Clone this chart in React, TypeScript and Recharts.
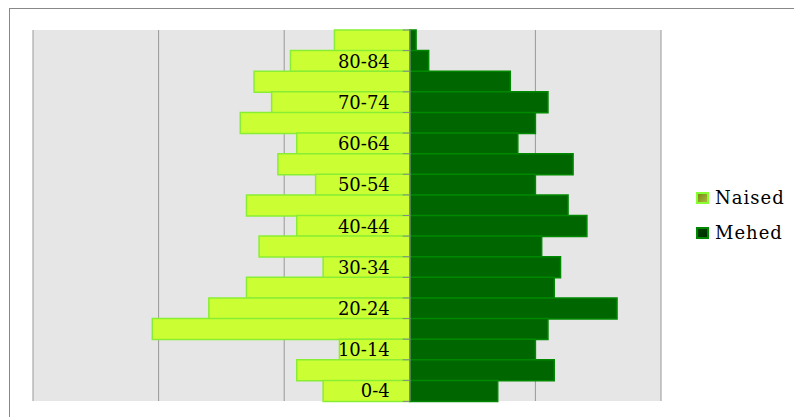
import { Bar, BarChart, CartesianGrid, LabelList, Legend, ReferenceLine, XAxis, YAxis } from "recharts";

// age groups, top to bottom
const AGES = [
  "85+", "80-84", "75-79", "70-74", "65-69", "60-64", "55-59", "50-54", "45-49",
  "40-44", "35-39", "30-34", "25-29", "20-24", "15-19", "10-14", "5-9", "0-4",
];
const NAISED = [0.6, 0.95, 1.24, 1.1, 1.35, 0.9, 1.05, 0.75, 1.3, 0.9, 1.2, 0.69, 1.3, 1.6, 2.05, 0.56, 0.9, 0.69];
const MEHED = [0.05, 0.15, 0.8, 1.1, 1.0, 0.86, 1.3, 1.0, 1.26, 1.41, 1.05, 1.2, 1.15, 1.65, 1.1, 1.0, 1.15, 0.7];
const X_TICKS = [-3, -2, -1, 0, 1, 2];

const FONT = "'DejaVu Serif', serif";
const LEGEND_W = 98;

const data = AGES.map((age, i) => ({
  age,
  naised: -NAISED[i],
  mehed: MEHED[i],
}));

// only every other age group gets a label, counting from the bottom
const showLabel = (i: number) => (AGES.length - 1 - i) % 2 === 0;

function AgeLabel(props: any) {
  const { x, y, width, height, value, index } = props;
  const right = Math.max(Number(x), Number(x) + Number(width));
  const top = Number(y);
  const h = Number(height);
  return (
    <g>
      <line x1={right - 7} x2={right} y1={top} y2={top} stroke="#888" strokeWidth={1} />
      {index === AGES.length - 1 && (
        <line x1={right - 7} x2={right} y1={top + h} y2={top + h} stroke="#888" strokeWidth={1} />
      )}
      {showLabel(index) && (
        <text
          x={right - 20}
          y={top + h / 2}
          textAnchor="end"
          dominantBaseline="central"
          fontFamily={FONT}
          fontSize={18}
          fill="#000"
        >
          {value}
        </text>
      )}
    </g>
  );
}

function LegendBox({ payload }: any) {
  const items = (payload || []).slice().sort((a: any) => (a.value === "Naised" ? -1 : 1));
  return (
    <div style={{ fontFamily: FONT, fontSize: 18, color: "#000" }}>
      {items.map((p: any) => (
        <div key={p.value} style={{ display: "flex", alignItems: "center", height: 35 }}>
          <span
            style={{
              display: "inline-block",
              width: 9,
              height: 8,
              marginRight: 6,
              border: `2px solid ${p.value === "Naised" ? "#88ff33" : "#008800"}`,
              background:
                p.value === "Naised"
                  ? "linear-gradient(135deg, #7a8a1a, #aab838)"
                  : "linear-gradient(135deg, #004400, #002c00)",
            }}
          />
          <span style={{ letterSpacing: 1 }}>{p.value}</span>
        </div>
      ))}
    </div>
  );
}

export default function App() {
  return (
    <div style={{ position: "absolute", left: 0, top: 0, width: 794, height: 417, background: "#fff" }}>
      <div
        style={{
          position: "absolute",
          left: 9,
          top: 8,
          right: 0,
          bottom: 0,
          borderTop: "1px solid #888",
          borderLeft: "1px solid #888",
        }}
      />
      <BarChart
        width={794}
        height={417}
        data={data}
        layout="vertical"
        stackOffset="sign"
        barCategoryGap={0}
        margin={{ top: 30, right: 133 - LEGEND_W, bottom: 16, left: 33 }}
      >
        <CartesianGrid horizontal={false} fill="#e6e6e6" stroke="#999" strokeWidth={1} />
        <XAxis type="number" domain={[-3, 2]} ticks={X_TICKS} hide />
        <YAxis type="category" dataKey="age" hide />
        <Bar
          dataKey="naised"
          name="Naised"
          stackId="a"
          fill="#ccff33"
          stroke="#88ee33"
          strokeWidth={1.5}
          isAnimationActive={false}
        >
          <LabelList dataKey="age" content={AgeLabel} />
        </Bar>
        <Bar
          dataKey="mehed"
          name="Mehed"
          stackId="a"
          fill="#006600"
          stroke="#008800"
          strokeWidth={1.5}
          isAnimationActive={false}
        />
        <ReferenceLine x={0} stroke="#888" strokeWidth={1.5} />
        <Legend
          layout="horizontal"
          verticalAlign="middle"
          align="right"
          content={LegendBox}
          wrapperStyle={{ left: 696, top: 180, width: LEGEND_W }}
        />
      </BarChart>
    </div>
  );
}
